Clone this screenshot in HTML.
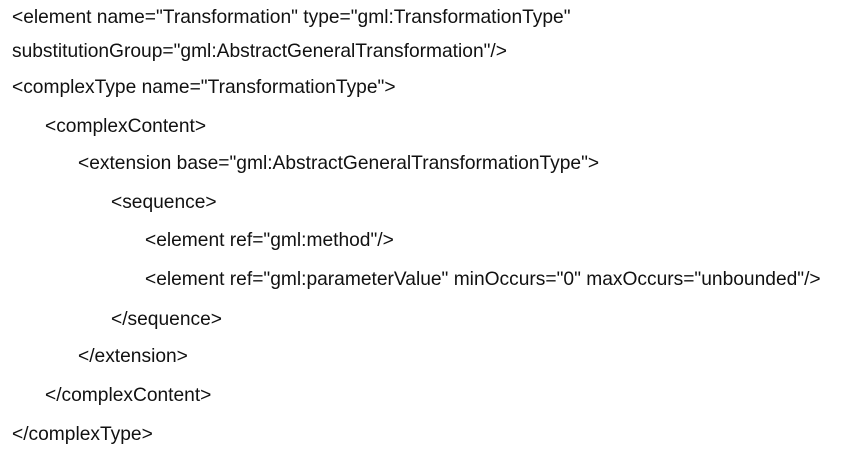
<!DOCTYPE html>
<html><head><meta charset="utf-8"><style>
html,body{margin:0;padding:0;background:#fff;}
body{width:841px;height:450px;position:relative;overflow:hidden;font-family:"Liberation Sans",Arial,sans-serif;font-size:19.2px;color:#111;}
div{position:absolute;white-space:pre;line-height:20px;}
</style></head><body>
<div style="left:12px;top:8px">&lt;element name="Transformation" type="gml:TransformationType"</div>
<div style="left:12px;top:42px">substitutionGroup="gml:AbstractGeneralTransformation"/&gt;</div>
<div style="left:12px;top:78px">&lt;complexType name="TransformationType"&gt;</div>
<div style="left:45px;top:117px">&lt;complexContent&gt;</div>
<div style="left:78px;top:154px">&lt;extension base="gml:AbstractGeneralTransformationType"&gt;</div>
<div style="left:111px;top:193px">&lt;sequence&gt;</div>
<div style="left:145px;top:231px">&lt;element ref="gml:method"/&gt;</div>
<div style="left:145px;top:270px">&lt;element ref="gml:parameterValue" minOccurs="0" maxOccurs="unbounded"/&gt;</div>
<div style="left:111px;top:310px">&lt;/sequence&gt;</div>
<div style="left:78px;top:347px">&lt;/extension&gt;</div>
<div style="left:45px;top:386px">&lt;/complexContent&gt;</div>
<div style="left:12px;top:425px">&lt;/complexType&gt;</div>
</body></html>
